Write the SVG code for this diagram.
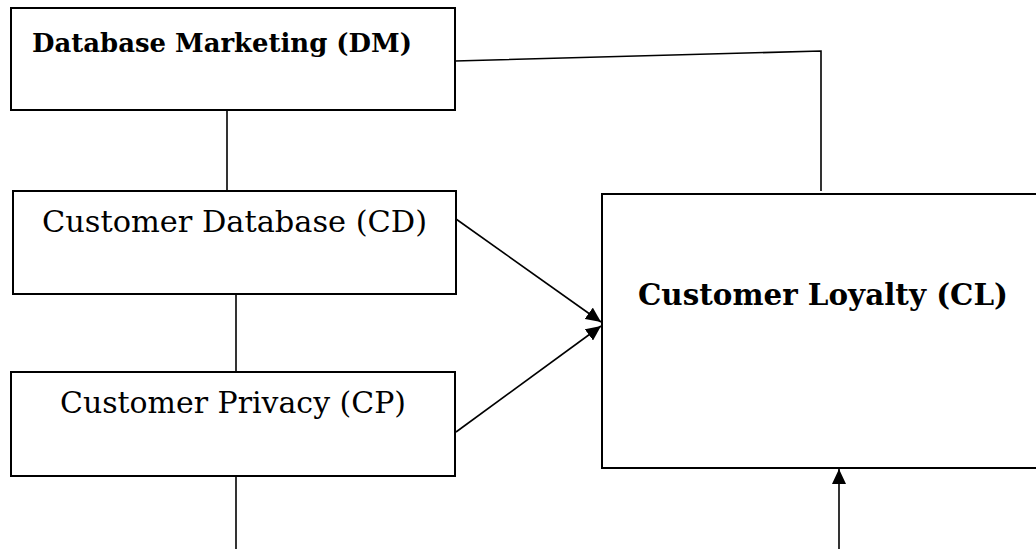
<svg xmlns="http://www.w3.org/2000/svg" width="1036" height="549" viewBox="0 0 1036 549">
<style>
.box{fill:#fff;stroke:#000;stroke-width:2}
.ln{fill:none;stroke:#000;stroke-width:1.6}
.bt{font-family:"DejaVu Serif","Liberation Serif",serif;font-weight:bold;fill:#000}
.rt{font-family:"DejaVu Serif","Liberation Serif",serif;fill:#000}
</style>
<defs>
<marker id="ah" markerUnits="userSpaceOnUse" markerWidth="16" markerHeight="14" refX="15" refY="7" orient="auto">
<path d="M0,0 L15,7 L0,14 Z" fill="#000"/>
</marker>
</defs>
<rect width="1036" height="549" fill="#fff"/>
<g id="connectors">
<line class="ln" x1="227" y1="111" x2="227" y2="191"/>
<polyline class="ln" points="455,61 821,51 821,191"/>
<line class="ln" x1="236" y1="294" x2="236" y2="372"/>
<line class="ln" x1="236" y1="476" x2="236" y2="549"/>
<line class="ln" x1="456" y1="219" x2="601" y2="322" marker-end="url(#ah)"/>
<line class="ln" x1="456" y1="432" x2="601" y2="326" marker-end="url(#ah)"/>
<line class="ln" x1="839" y1="549" x2="839" y2="469" marker-end="url(#ah)"/>
</g>
<g id="dm">
<rect class="box" x="11" y="8" width="444" height="102"/>
<text class="bt" x="32" y="52" font-size="26" textLength="380" lengthAdjust="spacingAndGlyphs">Database Marketing (DM)</text>
</g>
<g id="cd">
<rect class="box" x="13" y="191" width="443" height="103"/>
<text class="rt" x="42" y="232" font-size="30" textLength="385" lengthAdjust="spacingAndGlyphs">Customer Database (CD)</text>
</g>
<g id="cp">
<rect class="box" x="11" y="372" width="444" height="104"/>
<text class="rt" x="60" y="413" font-size="30" textLength="346" lengthAdjust="spacingAndGlyphs">Customer Privacy (CP)</text>
</g>
<g id="cl">
<rect class="box" x="602" y="194" width="440" height="274"/>
<text class="bt" x="638" y="305" font-size="30" textLength="370" lengthAdjust="spacingAndGlyphs">Customer Loyalty (CL)</text>
</g>
</svg>
